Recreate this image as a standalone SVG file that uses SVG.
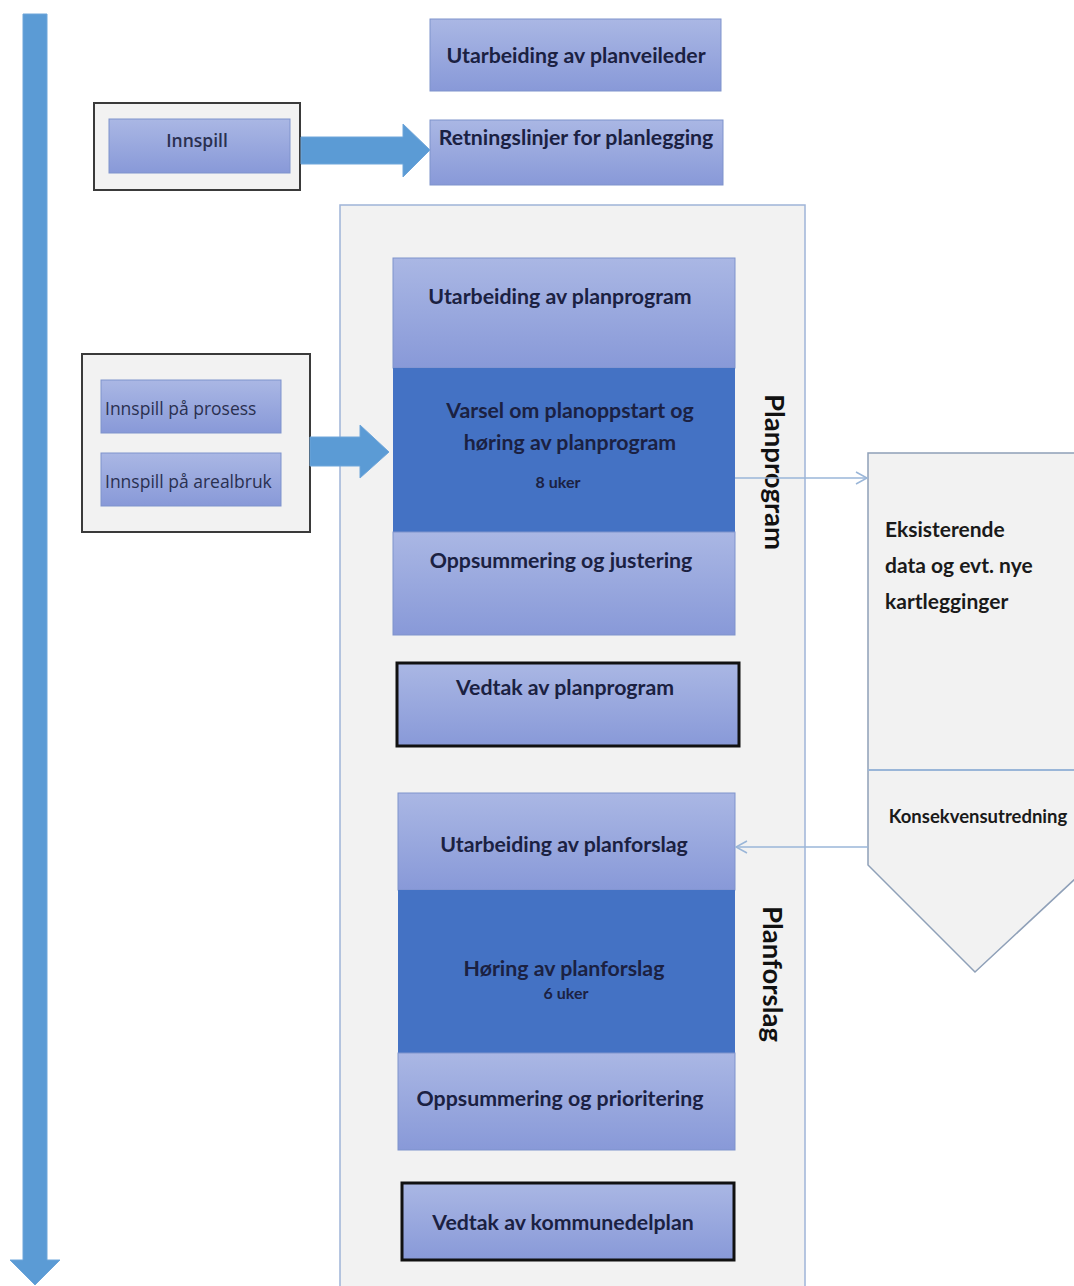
<svg xmlns="http://www.w3.org/2000/svg" width="1074" height="1286" viewBox="0 0 1074 1286">
<defs>
<linearGradient id="lg" x1="0" y1="0" x2="0" y2="1">
<stop offset="0" stop-color="#aab7e4"/>
<stop offset="1" stop-color="#8899d8"/>
</linearGradient>
<marker id="open" markerWidth="14" markerHeight="14" refX="12" refY="7" orient="auto" markerUnits="userSpaceOnUse">
<path d="M1,1 L12,7 L1,13" fill="none" stroke="#9ab6d8" stroke-width="1.5"/>
</marker>
<style>
.lb{fill:url(#lg);stroke:#7f93cc;stroke-width:1}
.dk{fill:#4472c4}
.frame{fill:#f2f2f2;stroke:#3a3a3a;stroke-width:2}
.thick{stroke:#111;stroke-width:3}
.t{font-family:Lato,"Open Sans","Liberation Sans",sans-serif;font-weight:bold;fill:#1b2142;text-anchor:middle;font-size:21.3px}
.st{text-anchor:start;fill:#1a1a1a;font-size:21px}
.sm{font-size:16px}
.v{font-size:27.5px;fill:#111}
.s{font-family:"Open Sans",Lato,"Liberation Sans",sans-serif;fill:#2a3050;font-size:17.5px}
.arr{fill:#5b9bd5;stroke:#6fa6da;stroke-width:1}
.con{fill:none;stroke:#9ab6d8;stroke-width:1.5}
</style>
</defs>
<rect width="1074" height="1286" fill="#ffffff"/>

<g id="timeline">
<polygon class="arr" points="23,14 47,14 47,1260 60,1260 35,1285 10,1260 23,1260"/>
</g>

<g id="planveileder">
<rect class="lb" x="430" y="19" width="291" height="72"/>
<text class="t" x="576" y="63">Utarbeiding av planveileder</text>
</g>

<g id="innspill">
<rect class="frame" x="94" y="103" width="206" height="87"/>
<rect class="lb" x="109" y="119" width="181" height="54"/>
<text class="s" x="197" y="147" text-anchor="middle" font-weight="600">Innspill</text>
</g>

<g id="retningslinjer">
<rect class="lb" x="430" y="120" width="293" height="65"/>
<text class="t" x="576" y="145">Retningslinjer for planlegging</text>
</g>

<g id="container">
<rect x="340" y="205" width="465" height="1090" fill="#f2f2f2" stroke="#9fb4d8" stroke-width="1.5"/>
</g>

<g id="innspill2">
<rect class="frame" x="82" y="354" width="228" height="178"/>
<rect class="lb" x="101" y="380" width="180" height="53"/>
<text class="s" x="105" y="415">Innspill på prosess</text>
<rect class="lb" x="101" y="453" width="180" height="53"/>
<text class="s" x="105" y="488">Innspill på arealbruk</text>
</g>

<g id="planprogram">
<rect class="lb" x="393" y="258" width="342" height="110"/>
<text class="t" x="560" y="304">Utarbeiding av planprogram</text>
<rect class="dk" x="393" y="368" width="342" height="164"/>
<text class="t" x="570" y="418">Varsel om planoppstart og</text>
<text class="t" x="570" y="450">høring av planprogram</text>
<text class="t sm" x="558" y="488">8 uker</text>
<rect class="lb" x="393" y="532" width="342" height="103"/>
<text class="t" x="561" y="568">Oppsummering og justering</text>
<text class="t v" x="0" y="0" transform="translate(765,472) rotate(90)">Planprogram</text>
</g>

<g id="vedtak-planprogram">
<rect class="lb thick" x="397" y="663" width="342" height="83"/>
<text class="t" x="565" y="695">Vedtak av planprogram</text>
</g>

<g id="planforslag">
<rect class="lb" x="398" y="793" width="337" height="97"/>
<text class="t" x="564" y="852">Utarbeiding av planforslag</text>
<rect class="dk" x="398" y="890" width="337" height="163"/>
<text class="t" x="564" y="976">Høring av planforslag</text>
<text class="t sm" x="566" y="999">6 uker</text>
<rect class="lb" x="398" y="1053" width="337" height="97"/>
<text class="t" x="560" y="1106">Oppsummering og prioritering</text>
<text class="t v" x="0" y="0" transform="translate(763,974) rotate(90)">Planforslag</text>
</g>

<g id="vedtak-kommunedelplan">
<rect class="lb thick" x="402" y="1183" width="332" height="77"/>
<text class="t" x="563" y="1230">Vedtak av kommunedelplan</text>
</g>

<g id="kartlegging">
<polygon points="868,453 1090,453 1090,865 975,972 868,865" fill="#f2f2f2" stroke="#8fa0b8" stroke-width="1.5"/>
<line x1="868" y1="770" x2="1074" y2="770" stroke="#9ab6d8" stroke-width="2"/>
<text class="t st" x="885" y="537">Eksisterende</text>
<text class="t st" x="885" y="573">data og evt. nye</text>
<text class="t st" x="885" y="609">kartlegginger</text>
<text class="t" x="978" y="823" style="font-size:18.5px;fill:#1a1a1a">Konsekvensutredning</text>
</g>

<g id="connectors">
<polygon class="arr" points="301,137 403,137 403,124 430,150 403,177 403,164 301,164"/>
<polygon class="arr" points="310,437 360,437 360,425 389,452 360,478 360,466 310,466"/>
<line class="con" x1="735" y1="478" x2="867" y2="478" marker-end="url(#open)"/>
<line class="con" x1="868" y1="847" x2="736" y2="847" marker-end="url(#open)"/>
</g>
</svg>
